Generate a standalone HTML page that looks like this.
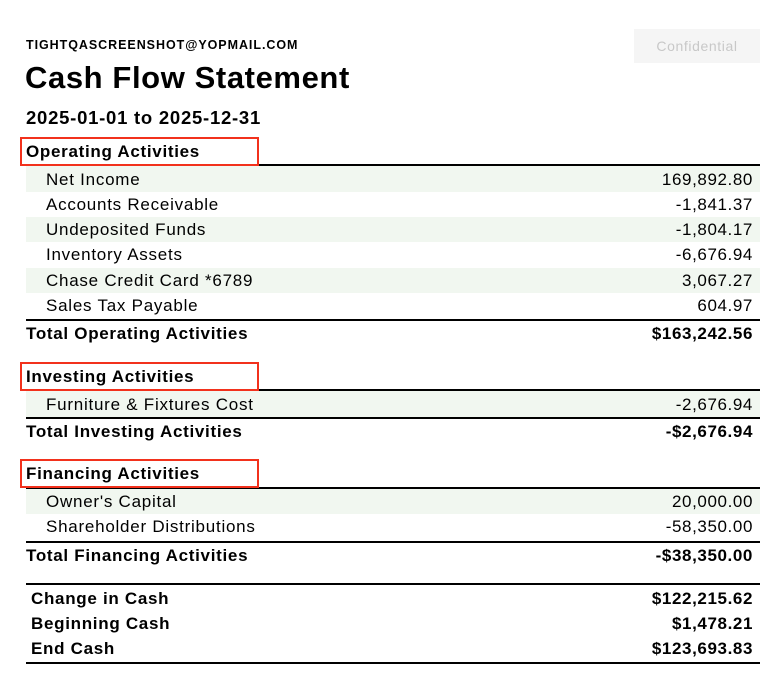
<!DOCTYPE html>
<html><head><style>
body{margin:0;width:775px;height:686px;background:#fff;position:relative;font-family:"Liberation Sans",Arial,sans-serif;color:#000;overflow:hidden}
.a{position:absolute;white-space:nowrap}
.ln{position:absolute;left:26px;width:734px;height:2px;background:#000}
.g{position:absolute;left:26px;width:734px;background:#f1f7f0}
.r{position:absolute;left:26px;width:727px;height:25px;line-height:25px;font-size:17px;letter-spacing:0.75px}
.r .l{position:absolute;left:20px}
.r .v{position:absolute;right:0;letter-spacing:0.6px}
.t{font-weight:bold;letter-spacing:0.7px}
.t .l{left:0}
.s .l{left:5px}
.box{position:absolute;left:20px;width:235px;height:25px;border:2px solid #f2311c;font-size:17px;font-weight:bold;line-height:26px;letter-spacing:0.7px;box-sizing:content-box;text-indent:4px;white-space:nowrap}
</style></head><body>
<div class="a" style="left:26px;top:38px;font-size:12.5px;font-weight:bold;letter-spacing:0.95px">TIGHTQASCREENSHOT@YOPMAIL.COM</div>
<div class="a" style="left:634px;top:29px;width:126px;height:34px;background:#f5f5f5;color:#c8c8c8;font-size:14px;line-height:34px;text-align:center;letter-spacing:0.6px">Confidential</div>
<div class="a" style="left:25px;top:60px;font-size:31px;font-weight:bold;letter-spacing:0.6px">Cash Flow Statement</div>
<div class="a" style="left:26px;top:107px;font-size:18.5px;font-weight:bold;letter-spacing:0.75px">2025-01-01 to 2025-12-31</div>

<div class="ln" style="top:164px"></div>
<div class="box" style="top:137px">Operating Activities</div>
<div class="g" style="top:166px;height:26px"></div>
<div class="g" style="top:217px;height:25px"></div>
<div class="g" style="top:268px;height:25px"></div>
<div class="r" style="top:167px"><span class="l">Net Income</span><span class="v">169,892.80</span></div>
<div class="r" style="top:192px"><span class="l">Accounts Receivable</span><span class="v">-1,841.37</span></div>
<div class="r" style="top:217px"><span class="l">Undeposited Funds</span><span class="v">-1,804.17</span></div>
<div class="r" style="top:242px"><span class="l">Inventory Assets</span><span class="v">-6,676.94</span></div>
<div class="r" style="top:268px"><span class="l">Chase Credit Card *6789</span><span class="v">3,067.27</span></div>
<div class="r" style="top:293px"><span class="l">Sales Tax Payable</span><span class="v">604.97</span></div>
<div class="ln" style="top:319px"></div>
<div class="r t" style="top:321px"><span class="l">Total Operating Activities</span><span class="v">$163,242.56</span></div>

<div class="ln" style="top:389px"></div>
<div class="box" style="top:362px">Investing Activities</div>
<div class="g" style="top:391px;height:26px"></div>
<div class="r" style="top:392px"><span class="l">Furniture &amp; Fixtures Cost</span><span class="v">-2,676.94</span></div>
<div class="ln" style="top:417px"></div>
<div class="r t" style="top:419px"><span class="l">Total Investing Activities</span><span class="v">-$2,676.94</span></div>

<div class="ln" style="top:487px"></div>
<div class="box" style="top:459px">Financing Activities</div>
<div class="g" style="top:489px;height:25px"></div>
<div class="r" style="top:489px"><span class="l">Owner's Capital</span><span class="v">20,000.00</span></div>
<div class="r" style="top:514px"><span class="l">Shareholder Distributions</span><span class="v">-58,350.00</span></div>
<div class="ln" style="top:541px"></div>
<div class="r t" style="top:543px"><span class="l">Total Financing Activities</span><span class="v">-$38,350.00</span></div>

<div class="ln" style="top:583px"></div>
<div class="r t s" style="top:586px"><span class="l">Change in Cash</span><span class="v">$122,215.62</span></div>
<div class="r t s" style="top:611px"><span class="l">Beginning Cash</span><span class="v">$1,478.21</span></div>
<div class="r t s" style="top:636px"><span class="l">End Cash</span><span class="v">$123,693.83</span></div>
<div class="ln" style="top:662px"></div>
</body></html>
